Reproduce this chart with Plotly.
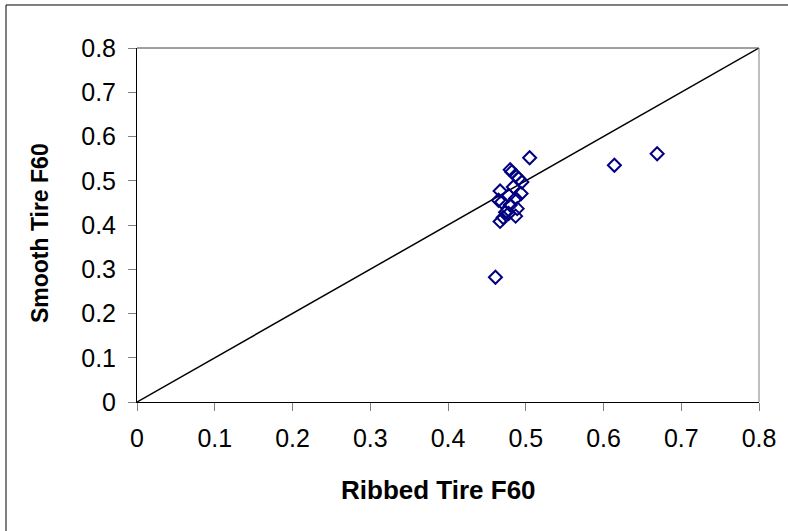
import plotly.graph_objects as go

# Ribbed vs smooth tire F60 measurements
ribbed_f60 = [0.505, 0.480, 0.482, 0.487, 0.491, 0.495, 0.467, 0.484, 0.478, 0.494,
              0.465, 0.469, 0.487, 0.480, 0.489, 0.474, 0.478, 0.487, 0.471, 0.467,
              0.461, 0.614, 0.669]
smooth_f60 = [0.552, 0.525, 0.520, 0.512, 0.505, 0.497, 0.477, 0.486, 0.467, 0.471,
              0.456, 0.452, 0.460, 0.445, 0.437, 0.429, 0.426, 0.420, 0.417, 0.408,
              0.282, 0.535, 0.561]

# Line of equality
equality_x = [0, 0.8]
equality_y = [0, 0.8]

tick_vals = [0, 0.1, 0.2, 0.3, 0.4, 0.5, 0.6, 0.7, 0.8]
tick_text = ["0", "0.1", "0.2", "0.3", "0.4", "0.5", "0.6", "0.7", "0.8"]

x_title = "Ribbed Tire F60"
y_title = "Smooth Tire F60"

font_family = "Liberation Sans, Arial, sans-serif"

fig = go.Figure()
fig.add_trace(go.Scatter(
    x=equality_x, y=equality_y, mode="lines",
    line=dict(color="black", width=1.5),
    showlegend=False, hoverinfo="skip",
))
fig.add_trace(go.Scatter(
    x=ribbed_f60, y=smooth_f60, mode="markers",
    marker=dict(symbol="diamond-open", size=10, color="#000080",
                line=dict(color="#000080", width=2)),
    showlegend=False,
))

axis_common = dict(
    range=[0, 0.8], tickvals=tick_vals, ticktext=tick_text,
    showgrid=False, zeroline=False,
    showline=True, linecolor="black", linewidth=1, mirror=False,
    ticks="outside", ticklen=8, tickcolor="#808080", tickwidth=1,
    tickfont=dict(family=font_family, size=25, color="black"),
)

fig.update_layout(
    width=788, height=531,
    margin=dict(l=137, r=29, t=48, b=129),
    plot_bgcolor="white", paper_bgcolor="white",
    xaxis=dict(**axis_common, ticklabelstandoff=6),
    yaxis=dict(**axis_common, ticklabelstandoff=7),
    annotations=[
        dict(text=f"<b>{x_title}</b>", xref="paper", yref="paper",
             x=0.4855, y=-0.2486, xanchor="center", yanchor="middle",
             showarrow=False,
             font=dict(family=font_family, size=26, color="black")),
        dict(text=f"<b>{y_title}</b>", xref="paper", yref="paper",
             x=-0.156, y=0.477, xanchor="center", yanchor="middle",
             textangle=-90, showarrow=False,
             font=dict(family=font_family, size=23, color="black")),
    ],
    shapes=[
        # outer chart border
        dict(type="rect", xref="paper", yref="paper",
             x0=-0.2106, y0=-0.5, x1=1.2, y1=1.1215,
             line=dict(color="black", width=1), layer="below"),
        # plot area frame (top and right)
        dict(type="line", xref="paper", yref="paper", x0=0, y0=1, x1=1, y1=1,
             line=dict(color="#404040", width=1)),
        dict(type="line", xref="paper", yref="paper", x0=1, y0=0, x1=1, y1=1,
             line=dict(color="#808080", width=1)),
    ],
)

fig.write_html("out.html")
